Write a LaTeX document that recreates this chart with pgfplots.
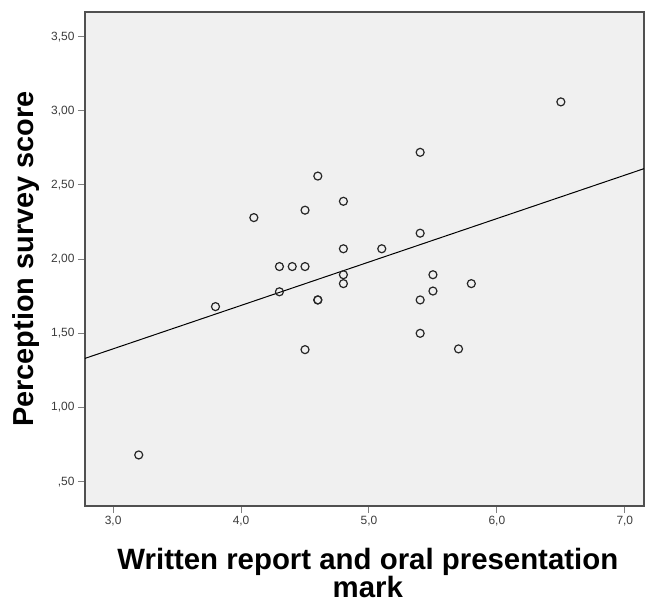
\documentclass[border=0pt]{standalone}
\usepackage{pgfplots}
\pgfplotsset{compat=1.18}
\usepackage{fontspec}
\setmainfont{Liberation Sans}
\definecolor{bgc}{HTML}{F0F0F0}
\definecolor{framec}{HTML}{505050}
\definecolor{tickc}{HTML}{3C3C3C}
\begin{document}
\begin{tikzpicture}
\begin{axis}[
  scale only axis,
  width=559bp, height=494bp,
  xmin=2.78, xmax=7.15, ymin=0.336, ymax=3.666,
  axis background/.style={fill=bgc},
  axis line style={draw=framec, line width=1.5bp},
  xtick={3,4,5,6,7},
  xticklabels={{3,0},{4,0},{5,0},{6,0},{7,0}},
  ytick={0.5,1,1.5,2,2.5,3,3.5},
  yticklabels={{,50},{1,00},{1,50},{2,00},{2,50},{3,00},{3,50}},
  tick align=outside,
  major tick length=7bp,
  xtick pos=bottom, ytick pos=left,
  tick style={draw=gray, line width=1bp},
  tick label style={font=\fontsize{12}{12}\selectfont, text=tickc},
  xlabel={Written report and oral presentation\\mark},
  xlabel style={at={(axis description cs:0.506,-0.085)}, anchor=north, inner sep=0pt,
    align=center, font=\fontsize{29.5}{26.5}\selectfont\bfseries},
  ylabel={Perception survey score},
  ylabel style={at={(axis description cs:-0.1306,0.5)}, anchor=north, inner sep=0pt,
    font=\fontsize{29}{30}\selectfont\bfseries},
  clip=true,
]
\addplot[only marks, mark=o, mark size=4bp, mark options={draw=black!85, line width=1.2bp}]
coordinates {
(3.2,0.68) (3.8,1.68) (4.1,2.28)
(4.3,1.95) (4.4,1.95) (4.5,1.95) (4.3,1.78)
(4.5,2.33) (4.6,2.56) (4.5,1.39)
(4.6,1.725) (4.6,1.725)
(4.8,2.39) (4.8,2.07) (4.8,1.895) (4.8,1.835)
(5.1,2.07)
(5.4,2.72) (5.4,2.175) (5.4,1.725) (5.4,1.50)
(5.5,1.895) (5.5,1.785)
(5.7,1.395) (5.8,1.835)
(6.5,3.06)
};
\addplot[black, line width=1bp] coordinates {(2.78,1.331) (7.15,2.61)};
\end{axis}
\pgfresetboundingbox
\path (current axis.origin) ++(-85bp,-94bp) rectangle ++(645bp,600bp);
\end{tikzpicture}
\end{document}
